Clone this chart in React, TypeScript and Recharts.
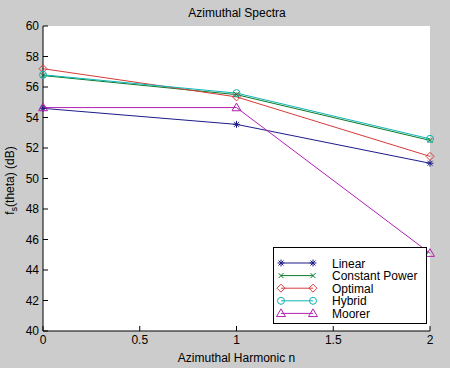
import React from "react";
import { LineChart, Line, XAxis, YAxis, Label } from "recharts";

const harmonics = [0, 1, 2];
const linear = [54.6, 53.55, 51.0];
const constantPower = [56.75, 55.5, 52.5];
const optimal = [57.2, 55.35, 51.45];
const hybrid = [56.8, 55.6, 52.6];
const moorer = [54.65, 54.65, 45.1];

const xTicks = [0, 0.5, 1, 1.5, 2];
const yTicks = [40, 42, 44, 46, 48, 50, 52, 54, 56, 58, 60];

const series = [
  { key: "linear", name: "Linear", values: linear, color: "#1c1c8a", marker: "star" },
  { key: "constantPower", name: "Constant Power", values: constantPower, color: "#0a7a2a", marker: "x" },
  { key: "optimal", name: "Optimal", values: optimal, color: "#d83a3a", marker: "diamond" },
  { key: "hybrid", name: "Hybrid", values: hybrid, color: "#10b4b4", marker: "circle" },
  { key: "moorer", name: "Moorer", values: moorer, color: "#b020b0", marker: "triangle" },
];

const data = harmonics.map((h, i) => {
  const row: Record<string, number> = { n: h };
  series.forEach((s) => (row[s.key] = s.values[i]));
  return row;
});

const FONT = "'Liberation Sans', Arial, sans-serif";

function Marker({ kind, cx, cy, color }: { kind: string; cx: number; cy: number; color: string }) {
  const p = { stroke: color, strokeWidth: 1, fill: "none" };
  if (kind === "star") {
    const r = 3.5;
    const d = 2.5;
    return (
      <g {...p}>
        <line x1={cx - r} y1={cy} x2={cx + r} y2={cy} />
        <line x1={cx} y1={cy - r} x2={cx} y2={cy + r} />
        <line x1={cx - d} y1={cy - d} x2={cx + d} y2={cy + d} />
        <line x1={cx - d} y1={cy + d} x2={cx + d} y2={cy - d} />
      </g>
    );
  }
  if (kind === "x") {
    const d = 2.5;
    return (
      <g {...p}>
        <line x1={cx - d} y1={cy - d} x2={cx + d} y2={cy + d} />
        <line x1={cx - d} y1={cy + d} x2={cx + d} y2={cy - d} />
      </g>
    );
  }
  if (kind === "diamond") {
    const r = 4;
    return <polygon {...p} points={`${cx},${cy - r} ${cx + r},${cy} ${cx},${cy + r} ${cx - r},${cy}`} />;
  }
  if (kind === "circle") {
    return <circle {...p} cx={cx} cy={cy} r={3.5} />;
  }
  const r = 4.5;
  return <polygon {...p} points={`${cx},${cy - r} ${cx + r},${cy + r * 0.7} ${cx - r},${cy + r * 0.7}`} />;
}

const emptyTick = () => <g />;

function YTitle({ viewBox }: any) {
  const cx = 14;
  const cy = viewBox.y + viewBox.height / 2 + 2;
  return (
    <text
      transform={`rotate(-90 ${cx} ${cy})`}
      x={cx}
      y={cy}
      textAnchor="middle"
      fontFamily={FONT}
      fontSize={12}
      fill="#000"
    >
      f
      <tspan fontSize={9} dy={3}>s</tspan>
      <tspan dy={-3}>(theta)  (dB)</tspan>
    </text>
  );
}

function LegendBox() {
  return (
    <div
      style={{
        position: "absolute",
        left: 273,
        top: 247,
        width: 154,
        height: 77,
        background: "#fff",
        border: "1px solid #000",
        boxSizing: "border-box",
      }}
    >
      <svg width={152} height={75} style={{ position: "absolute", left: 0, top: 0 }}>
        {series.map((s, i) => {
          const y = 15 + i * 12.6;
          return (
            <g key={s.key}>
              <line x1={7} y1={y} x2={39} y2={y} stroke={s.color} strokeWidth={1} />
              <Marker kind={s.marker} cx={7} cy={y} color={s.color} />
              <Marker kind={s.marker} cx={39} cy={y} color={s.color} />
              <text x={58} y={y + 4.5} fontFamily={FONT} fontSize={12} fill="#000">
                {s.name}
              </text>
            </g>
          );
        })}
      </svg>
    </div>
  );
}

export default function App() {
  return (
    <div
      style={{
        position: "absolute",
        left: 0,
        top: 0,
        width: 450,
        height: 368,
        background: "#cccccc",
        overflow: "hidden",
      }}
    >
      <svg width={450} height={368} style={{ position: "absolute", left: 0, top: 0 }}>
        <rect x={43} y={26} width={387} height={305} fill="#fff" />
        <text x={237} y={17} textAnchor="middle" fontFamily={FONT} fontSize={12} fill="#000">
          Azimuthal Spectra
        </text>
      </svg>
      <div style={{ position: "absolute", left: 0, top: 0 }}>
        <LineChart width={450} height={368} data={data} margin={{ top: 26, right: 20, bottom: 0, left: 0 }}>
          <XAxis
            xAxisId="bottom"
            dataKey="n"
            type="number"
            domain={[0, 2]}
            ticks={xTicks}
            height={37}
            tickSize={-5}
            tickMargin={9}
            tick={{ fontFamily: FONT, fontSize: 12, fill: "#000" }}
            axisLine={{ stroke: "#000" }}
            tickLine={{ stroke: "#000" }}
          >
            <Label
              value="Azimuthal Harmonic n"
              position="insideBottom"
              offset={6}
              style={{ fontFamily: FONT, fontSize: 12, fill: "#000" }}
            />
          </XAxis>
          <XAxis
            xAxisId="top"
            dataKey="n"
            type="number"
            orientation="top"
            domain={[0, 2]}
            ticks={xTicks}
            height={0}
            tickSize={-5}
            tick={emptyTick}
            axisLine={{ stroke: "#000" }}
            tickLine={{ stroke: "#000" }}
          />
          <YAxis
            yAxisId="left"
            type="number"
            domain={[40, 60]}
            ticks={yTicks}
            width={43}
            tickSize={-5}
            tickMargin={9}
            tick={{ fontFamily: FONT, fontSize: 12, fill: "#000" }}
            axisLine={{ stroke: "#000" }}
            tickLine={{ stroke: "#000" }}
          >
            <Label content={<YTitle />} />
          </YAxis>
          <YAxis
            yAxisId="right"
            orientation="right"
            type="number"
            domain={[40, 60]}
            ticks={yTicks}
            width={0}
            tickSize={-5}
            tick={emptyTick}
            axisLine={{ stroke: "#000" }}
            tickLine={{ stroke: "#000" }}
          />
          {series.map((s) => (
            <Line
              key={s.key}
              xAxisId="bottom"
              yAxisId="left"
              dataKey={s.key}
              name={s.name}
              type="linear"
              stroke={s.color}
              strokeWidth={1}
              isAnimationActive={false}
              dot={(props: any) => (
                <Marker key={`${s.key}-${props.index}`} kind={s.marker} cx={props.cx} cy={props.cy} color={s.color} />
              )}
              activeDot={false}
            />
          ))}
        </LineChart>
      </div>
      <LegendBox />
    </div>
  );
}
